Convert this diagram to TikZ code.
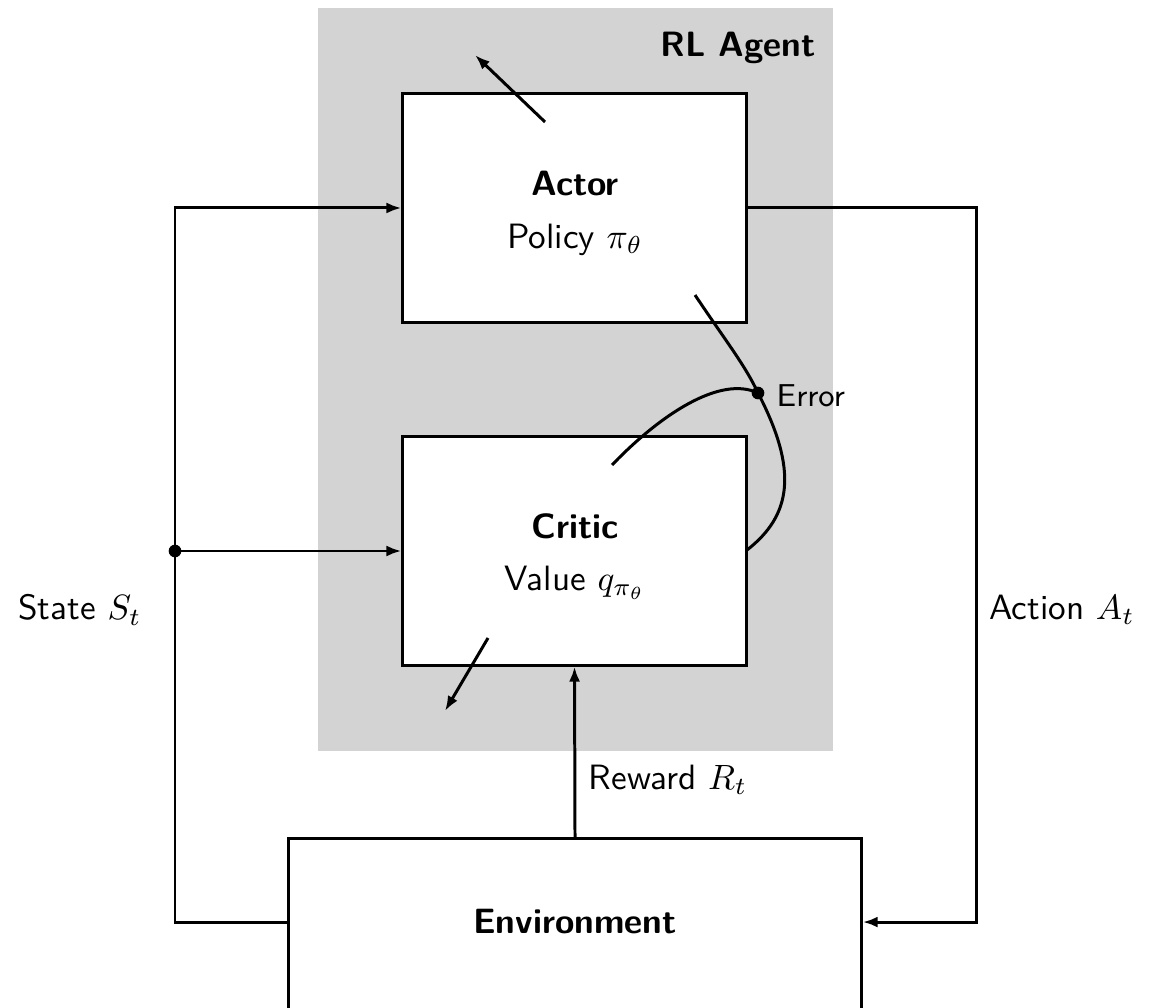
\documentclass[tikz,border=0pt]{standalone}
\usetikzlibrary{arrows.meta}
\definecolor{agentgray}{RGB}{211,211,211}
\begin{document}
\begin{tikzpicture}[x=0.01cm,y=-0.01cm,font=\sffamily,
  box/.style={draw,line width=0.85pt,fill=white,minimum width=3.43cm,minimum height=2.28cm,inner sep=0pt},
  conn/.style={line width=0.85pt},
  arr/.style={conn,-{Latex[length=1.5mm,width=1.1mm]}},
  lbl/.style={inner sep=0pt}]
\useasboundingbox (0,0) rectangle (1165,1007);
\fill[agentgray] (318,8) rectangle (833,751);
\node[lbl,font=\sffamily\bfseries] (agentlbl) at (738,48) {RL Agent};
\node[box] (actor) at (574.5,208) {};
\node[box] (critic) at (574.5,551) {};
\node[box,minimum width=5.72cm,minimum height=2.3cm,anchor=north] (env) at (575,837) {};
\node[lbl,font=\sffamily\bfseries] (actort) at (575,184) {Actor};
\node[lbl] (policy) at (575,240) {Policy $\pi_\theta$};
\node[lbl,font=\sffamily\bfseries] (critict) at (575,526) {Critic};
\node[lbl] (value) at (575,583) {Value $q_{\pi_\theta}$};
\node[lbl,font=\sffamily\bfseries] (envt) at (575,922) {Environment};
\node[lbl] (state) at (80,610) {State $S_t$};
\node[lbl] (action) at (1062,610) {Action $A_t$};
\node[lbl] (reward) at (668,780) {Reward $R_t$};
% left loop
\coordinate (split) at (175,551);
\draw[arr] ([yshift=-0.85cm]env.north west) -| (split) |- (actor.west);
\draw[arr] (split) -- (critic.west);
\fill (split) circle (1.8pt);
% right loop
\draw[arr] (actor.east) -- ++(229,0) |- ([yshift=-0.85cm]env.north east);
% reward
\draw[arr] (env.north) -- (critic.south);
% policy update arrows
\coordinate (a1) at (545,122);
\coordinate (a2) at (475,55);
\draw[arr] (a1) -- (a2);
\coordinate (c1) at (488,638);
\coordinate (c2) at (445,711);
\draw[arr] (c1) -- (c2);
% error curves
\coordinate (err) at (758,393);
\coordinate (e1) at (695,295);
\coordinate (e2) at (747,550);
\coordinate (e3) at (612,465);
\draw[conn] (e1) .. controls (725,340) and (745,365) .. (err) .. controls (798,470) and (792,515) .. (e2);
\draw[conn] (e3) .. controls (660,415) and (720,375) .. (err);
\fill (err) circle (1.8pt);
\node[lbl,font=\sffamily\small,anchor=west] (errt) at (776,396) {Error};
\end{tikzpicture}
\end{document}
